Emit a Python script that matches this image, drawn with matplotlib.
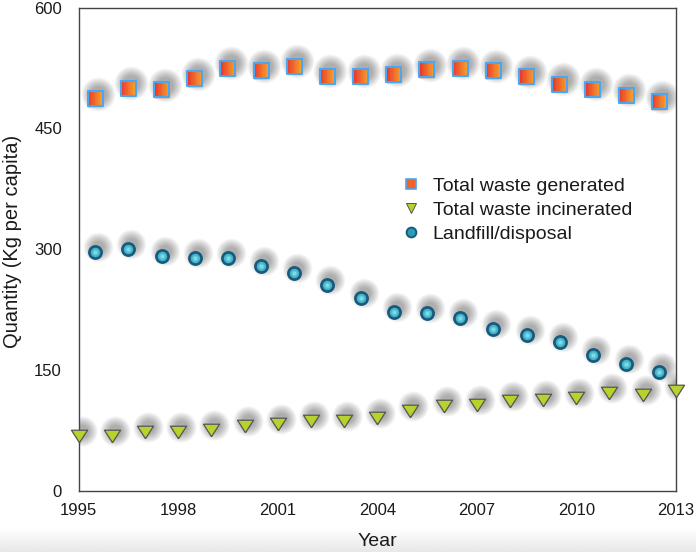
import numpy as np
import matplotlib
matplotlib.use('Agg')
import matplotlib.pyplot as plt
from matplotlib.lines import Line2D
from matplotlib.transforms import offset_copy
from matplotlib.colors import to_rgb

# values
years_half = [1995.5, 1996.5, 1997.5, 1998.5, 1999.5, 2000.5, 2001.5, 2002.5, 2003.5,
              2004.5, 2005.5, 2006.5, 2007.5, 2008.5, 2009.5, 2010.5, 2011.5, 2012.5]
years_full = [1995, 1996, 1997, 1998, 1999, 2000, 2001, 2002, 2003, 2004,
              2005, 2006, 2007, 2008, 2009, 2010, 2011, 2012, 2013]
generated = [487, 500, 498, 512, 525, 522, 527, 515, 515,
             517, 523, 525, 522, 514, 505, 499, 491, 483]
landfill = [297, 300, 291, 289, 289, 279, 270, 256, 240,
            222, 221, 215, 201, 194, 185, 169, 157, 147]
incinerated = [68, 68, 73, 73, 76, 80, 83, 86, 86, 90,
               99, 105, 106, 111, 113, 115, 121, 119, 124]

x_ticks = [1995, 1998, 2001, 2004, 2007, 2010, 2013]
y_ticks = [0, 150, 300, 450, 600]
labels = ['Total waste generated', 'Total waste incinerated', 'Landfill/disposal']

plt.rcParams['font.family'] = ['Liberation Sans', 'DejaVu Sans']
txt = '#1a1a1a'

fig = plt.figure(figsize=(6.96, 5.52), dpi=100)

# faint grey band at the bottom of the image
bg = fig.add_axes([0, 0, 1, 0.045], zorder=-5)
bg.imshow(np.linspace(1.0, 0.91, 20).reshape(-1, 1), aspect='auto', cmap='gray',
          vmin=0, vmax=1, extent=[0, 1, 0, 1])
bg.axis('off')

ax = fig.add_axes([0.113, 0.111, 0.858, 0.875])


def mix(c0, c1, t):
    a, b = np.array(to_rgb(c0)), np.array(to_rgb(c1))
    return tuple(a + (b - a) * t)


def shadow(x, y, size, dx=3, dy=5):
    # soft blurred drop shadow, up and to the right
    tr = offset_copy(ax.transData, fig=fig, x=dx, y=dy, units='dots')
    for k in range(10):
        ax.scatter(x, y, s=(size + 1.4 * k) ** 2, marker='o', color='black',
                   alpha=0.036, linewidths=0, transform=tr, zorder=2)


# squares: generated
sq = 10.8
shadow(years_half, generated, sq + 1)
n = 12
edges = np.linspace(-1, 1, n + 1)
for i in range(n):
    a, b = edges[i], edges[i + 1]
    verts = [(a, -1), (b, -1), (b, 1), (a, 1), (a, -1)]
    c = mix('#e8322b', '#f8a22c', (i + 0.5) / n)
    ax.scatter(years_half, generated, s=sq ** 2, marker=verts, color=c,
               edgecolors=c, linewidths=0.3, zorder=3)
ax.scatter(years_half, generated, s=sq ** 2, marker='s', facecolors='none',
           edgecolors='#4aa6f0', linewidths=1.5, zorder=4)

# circles: landfill
ci = 8.8
shadow(years_half, landfill, ci)
ax.scatter(years_half, landfill, s=ci ** 2, marker='o', color='#2a9cb8',
           edgecolors='#175a7c', linewidths=1.9, zorder=3)
for k, f in enumerate([0.75, 0.5, 0.28]):
    ax.scatter(years_half, landfill, s=(ci * f) ** 2, marker='o',
               color=mix('#2a9cb8', '#7fdbe6', (k + 1) / 3), linewidths=0, zorder=4)

# triangles: incinerated
tri = [(0, -0.78), (-1, 0.78), (1, 0.78), (0, -0.78)]
tr_s = 11.6
shadow(years_full, incinerated, tr_s * 0.8)
ax.scatter(years_full, incinerated, s=tr_s ** 2, marker=tri, color='#b8d12c',
           edgecolors='#555555', linewidths=0.9, zorder=3, clip_on=False)

ax.set_xlim(1995, 2013)
ax.set_ylim(0, 600)
ax.set_xticks(x_ticks)
ax.set_yticks(y_ticks)
ax.tick_params(length=0, labelsize=12, colors=txt)
ax.tick_params(axis='y', pad=12)
ax.tick_params(axis='x', pad=9)
for s in ax.spines.values():
    s.set_color('#444444')
    s.set_linewidth(1.0)

ax.set_xlabel('Year', fontsize=14, color=txt)
ax.set_ylabel('Quantity (Kg per capita)', fontsize=14.5, color=txt)
ax.xaxis.set_label_coords(0.5, -0.088)
ax.yaxis.set_label_coords(-0.095, 0.517)

handles = [
    Line2D([], [], ls='none', marker='s', markersize=7, mfc='#f0622b', mec='#4aa6f0', mew=1.2),
    Line2D([], [], ls='none', marker='v', markersize=7, mfc='#b8d12c', mec='#555555', mew=0.7),
    Line2D([], [], ls='none', marker='o', markersize=7, mfc='#2a9cb8', mec='#175a7c', mew=1.4),
]
ax.legend(handles, labels, loc='upper left', bbox_to_anchor=(0.546, 0.649), frameon=False,
          fontsize=14, handlelength=0.6, handletextpad=0.84, labelspacing=0.33,
          borderpad=0, borderaxespad=0, labelcolor=txt)

fig.savefig('out.png', dpi=100)
